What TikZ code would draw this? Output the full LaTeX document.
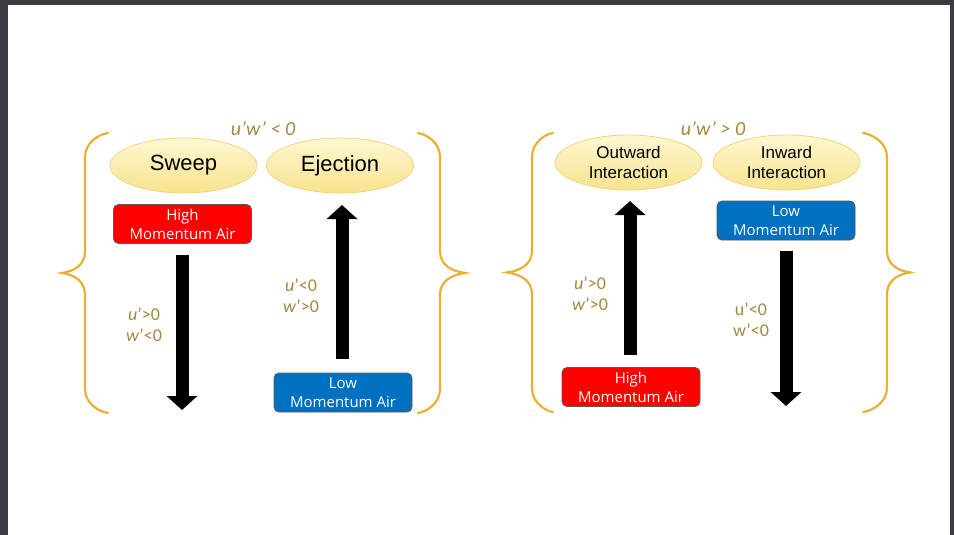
\documentclass[tikz,border=0pt]{standalone}
\usepackage{fontspec}
\setmainfont{Liberation Sans}
\newfontfamily\boxfont{Open Sans}
\newfontfamily\lblfont{Carlito}
\usetikzlibrary{arrows.meta,shapes.geometric}
\definecolor{framecol}{HTML}{3C3B41}
\definecolor{bracecol}{HTML}{E8B035}
\definecolor{lblcol}{HTML}{A08A40}
\definecolor{ellhi}{HTML}{FFF7D2}
\definecolor{ellfill}{HTML}{F8E38E}
\definecolor{elldraw}{HTML}{EDD67E}
\definecolor{hired}{HTML}{FF0000}
\definecolor{loblue}{HTML}{0070C0}
\newcommand\mybrace[5]{% #1 end x, #2 stem x, #3 tip x, #4 top y, #5 bottom y
\draw[bracestyle] (#1,#4) .. controls ({#2+0.65*(#1-#2)},{#4+1}) and (#2,{#4+9}) .. (#2,{#4+24})
 -- (#2,{(#4+#5)/2-22}) .. controls (#2,{(#4+#5)/2-8}) and ({#3+0.55*(#2-#3)},{(#4+#5)/2-2}) .. (#3,{(#4+#5)/2})
 .. controls ({#3+0.55*(#2-#3)},{(#4+#5)/2+2}) and (#2,{(#4+#5)/2+8}) .. (#2,{(#4+#5)/2+22})
 -- (#2,{#5-24}) .. controls (#2,{#5-9}) and ({#2+0.65*(#1-#2)},{#5-1}) .. (#1,#5);}
\begin{document}
\begin{tikzpicture}[x=1pt,y=-1pt,
  bracestyle/.style={draw=bracecol, line width=2.2pt, line cap=round},
  oval/.style={ellipse, minimum width=147pt, minimum height=55pt, inner sep=0pt,
    draw=elldraw, line width=0.8pt, top color=ellhi, bottom color=ellfill, align=center},
  bigfont/.style={font=\fontsize{22}{26}\selectfont},
  twofont/.style={font=\fontsize{17}{20}\selectfont},
  airbox/.style={rectangle, rounded corners=5pt, minimum width=138pt, minimum height=39pt,
    inner sep=0pt, align=center, text=white, draw=black!65, line width=0.8pt,
    font=\boxfont\fontsize{15}{19}\selectfont},
  hibox/.style={airbox, fill=hired},
  lobox/.style={airbox, fill=loblue},
  lbl/.style={text=lblcol, align=center, font=\lblfont\fontsize{18}{21}\selectfont},
  ttl/.style={text=lblcol, font=\lblfont\itshape\fontsize{20}{24}\selectfont},
  bigarrow/.style={draw=black, line width=13pt, -{Triangle[width=30pt,length=14pt]}}
]
\useasboundingbox (0,0) rectangle (954,535);
\fill[framecol] (0,0) rectangle (954,535);
\fill[white] (8,5) rectangle (950,535);

% braces
\mybrace{108}{85}{62}{133}{413}
\mybrace{418}{440}{465}{133}{413}
\mybrace{553}{532}{507}{133}{412}
\mybrace{863}{887}{910}{133}{412}

% titles
\node[ttl] (t1) at (263,129) {u’w’ < 0};
\node[ttl] (t2) at (713,129) {u’w’ > 0};

% left panel
\node[oval, bigfont] (sweep) at (183.5,165.5) {Sweep};
\node[oval, bigfont] (eject) at (340,165.5) {Ejection};
\node[hibox] (hi1) at (182.5,224) {High\\Momentum Air};
\node[lobox] (lo1) at (343,392.5) {Low\\Momentum Air};
\coordinate (a1s) at (182,255);
\coordinate (a1e) at (182,410);
\coordinate (a2s) at (342,359);
\coordinate (a2e) at (342,205);
\draw[bigarrow] (a1s) -- (a1e);
\draw[bigarrow] (a2s) -- (a2e);
\node[lbl] (l1) at (144,325) {\textit{u}’>0\\\textit{w}’<0};
\node[lbl] (l2) at (301,296) {\textit{u}’<0\\\textit{w}’>0};

% right panel
\node[oval, twofont] (outw) at (628.5,162.5) {Outward\\Interaction};
\node[oval, twofont] (inw) at (786.5,162.5) {Inward\\Interaction};
\node[lobox] (lo2) at (786,220.5) {Low\\Momentum Air};
\node[hibox] (hi2) at (631,387) {High\\Momentum Air};
\coordinate (a3s) at (630,355);
\coordinate (a3e) at (630,201);
\coordinate (a4s) at (786,251);
\coordinate (a4e) at (786,406);
\draw[bigarrow] (a3s) -- (a3e);
\draw[bigarrow] (a4s) -- (a4e);
\node[lbl] (l3) at (590,294) {\textit{u}’>0\\\textit{w}’>0};
\node[lbl] (l4) at (751,320) {u’<0\\w’<0};
\end{tikzpicture}
\end{document}
